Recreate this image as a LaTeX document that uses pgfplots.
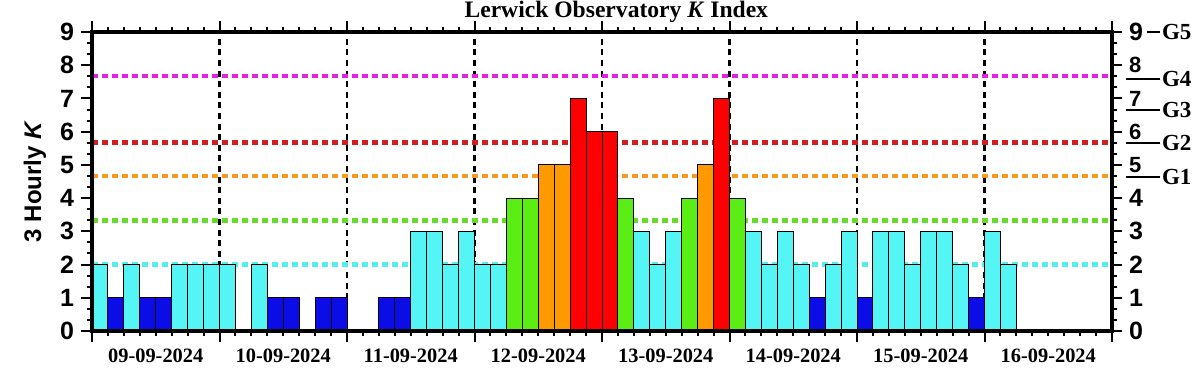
\documentclass[border=0pt]{standalone}
\usepackage{pgfplots}
\pgfplotsset{compat=1.18}
\usepackage{fontspec}
\setmainfont{Liberation Serif}
\setsansfont{Liberation Sans}
\definecolor{kblue}{RGB}{12,12,230}
\definecolor{kcyan}{RGB}{85,245,245}
\definecolor{kgreen}{RGB}{90,238,20}
\definecolor{korange}{RGB}{255,153,0}
\definecolor{kred}{RGB}{255,0,0}
\definecolor{lcyan}{RGB}{85,238,238}
\definecolor{lgreen}{RGB}{100,220,40}
\definecolor{lorange}{RGB}{255,150,30}
\definecolor{lred}{RGB}{210,30,30}
\definecolor{lmag}{RGB}{230,30,230}
\newcommand{\tickfont}{\sffamily\bfseries\fontsize{12.5}{14}\selectfont}
\newcommand{\smalltick}{\sffamily\bfseries\fontsize{11}{12}\selectfont}
\newcommand{\gfont}{\rmfamily\bfseries\fontsize{11.5}{12}\selectfont}
\begin{document}
\begin{tikzpicture}
\path[use as bounding box] (-46pt,-22pt) rectangle (555pt,165.5pt);
\begin{axis}[
  at={(0,0)}, anchor=south west,
  scale only axis, width=510pt, height=149.5pt,
  xmin=0, xmax=64, ymin=0, ymax=9,
  enlargelimits=false,
  axis line style={line width=1.6pt},
  tick style={black, line width=1pt},
  tick align=outside,
  major tick length=5.5pt, minor tick length=2.5pt,
  /pgf/number format/assume math mode=true,
  xtick={0,8,...,64},
  minor x tick num=7,
  xticklabels={09-09-2024,10-09-2024,11-09-2024,12-09-2024,13-09-2024,14-09-2024,15-09-2024,16-09-2024,{}},
  xticklabel style={font=\rmfamily\bfseries\fontsize{10.2}{12}\selectfont, xshift=31.875pt},
  xmajorgrids,
  major grid style={black, line width=1.2pt, dash pattern=on 3pt off 2.3pt},
  ytick={0,1,...,9},
  yticklabels={0,1,2,3,4,5,6,7,8,9},
  minor y tick num=2,
  ytick pos=left,
  yticklabel style={font=\tickfont},
  ylabel={\sffamily\bfseries\fontsize{12}{13}\selectfont 3 Hourly \textit{K}},
  ylabel style={at={(axis description cs:-0.0559,0.5)}, anchor=center},
  clip=false,
]
% threshold lines
\addplot[lcyan, line width=2.2pt, dash pattern=on 3pt off 2pt] coordinates {(0,2) (64,2)};
\addplot[lgreen, line width=2.2pt, dash pattern=on 3pt off 2pt] coordinates {(0,3.33) (64,3.33)};
\addplot[lorange, line width=2.2pt, dash pattern=on 3pt off 2pt] coordinates {(0,4.67) (64,4.67)};
\addplot[lred, line width=2.2pt, dash pattern=on 3pt off 2pt] coordinates {(0,5.67) (64,5.67)};
\addplot[lmag, line width=2.2pt, dash pattern=on 3pt off 2pt] coordinates {(0,7.67) (64,7.67)};
% bars
\addplot[ybar, bar width=1, bar shift=0pt, fill=kblue, draw=black, line width=0.5pt] coordinates {
 (1.5,1) (3.5,1) (4.5,1) (11.5,1) (12.5,1) (14.5,1) (15.5,1) (18.5,1) (19.5,1) (45.5,1) (48.5,1) (55.5,1)};
\addplot[ybar, bar width=1, bar shift=0pt, fill=kcyan, draw=black, line width=0.5pt] coordinates {
 (0.5,2) (2.5,2) (5.5,2) (6.5,2) (7.5,2) (8.5,2) (10.5,2) (20.5,3) (21.5,3) (22.5,2) (23.5,3)
 (24.5,2) (25.5,2) (34.5,3) (35.5,2) (36.5,3) (41.5,3) (42.5,2) (43.5,3) (44.5,2) (46.5,2) (47.5,3)
 (49.5,3) (50.5,3) (51.5,2) (52.5,3) (53.5,3) (54.5,2) (56.5,3) (57.5,2)};
\addplot[ybar, bar width=1, bar shift=0pt, fill=kgreen, draw=black, line width=0.5pt] coordinates {
 (26.5,4) (27.5,4) (33.5,4) (37.5,4) (40.5,4)};
\addplot[ybar, bar width=1, bar shift=0pt, fill=korange, draw=black, line width=0.5pt] coordinates {
 (28.5,5) (29.5,5) (38.5,5)};
\addplot[ybar, bar width=1, bar shift=0pt, fill=kred, draw=black, line width=0.5pt] coordinates {
 (30.5,7) (31.5,6) (32.5,6) (39.5,7)};
\draw[line width=1.6pt] (rel axis cs:0,0) rectangle (rel axis cs:1,1);
\node[anchor=base, inner sep=0pt, font=\rmfamily\bfseries\fontsize{11.8}{13}\selectfont]
  at ([yshift=7.5pt]rel axis cs:0.514,1) {Lerwick Observatory \textit{K} Index};
\end{axis}
\begin{axis}[
  at={(0,0)}, anchor=south west,
  scale only axis, width=510pt, height=149.5pt,
  xmin=0, xmax=64, ymin=0, ymax=9,
  hide x axis,
  axis y line*=right,
  y axis line style={line width=1.6pt, -},
  tick style={black, line width=1pt},
  tick align=outside,
  major tick length=5pt, minor tick length=2.5pt,
  /pgf/number format/assume math mode=true,
  ytick={0,1,...,9},
  yticklabels={0,1,2,3,4,{\smalltick 5},{\smalltick 6},{\smalltick 7},{\smalltick 8},9},
  minor y tick num=2,
  yticklabel style={font=\tickfont},
  clip=false,
]
\draw[line width=1pt] ([xshift=17.5pt]axis cs:64,9) -- ([xshift=24pt]axis cs:64,9) node[anchor=west, inner sep=0.5pt, font=\gfont] {G5};
\draw[line width=1pt] ([xshift=7pt]axis cs:64,7.6) -- ([xshift=24pt]axis cs:64,7.6) node[anchor=west, inner sep=0.5pt, font=\gfont] {G4};
\draw[line width=1pt] ([xshift=7pt]axis cs:64,6.65) -- ([xshift=24pt]axis cs:64,6.65) node[anchor=west, inner sep=0.5pt, font=\gfont] {G3};
\draw[line width=1pt] ([xshift=7pt]axis cs:64,5.67) -- ([xshift=24pt]axis cs:64,5.67) node[anchor=west, inner sep=0.5pt, font=\gfont] {G2};
\draw[line width=1pt] ([xshift=7pt]axis cs:64,4.65) -- ([xshift=24pt]axis cs:64,4.65) node[anchor=west, inner sep=0.5pt, font=\gfont] {G1};
\end{axis}
\end{tikzpicture}
\end{document}
